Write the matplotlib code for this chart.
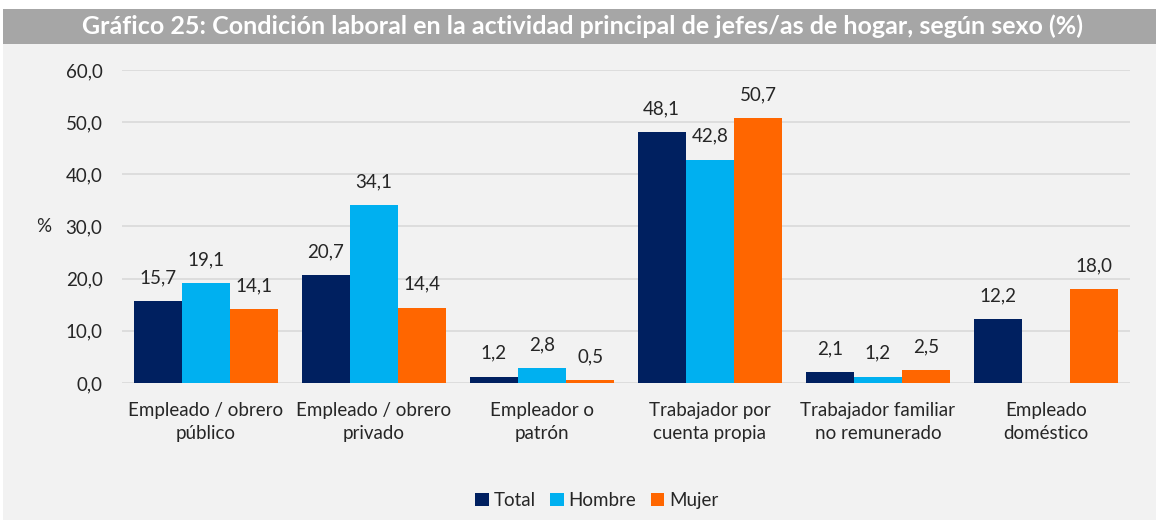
import numpy as np
import matplotlib.pyplot as plt
from matplotlib.patches import Rectangle

plt.rcParams['font.family'] = ['Lato', 'DejaVu Sans']

categorias = ['Empleado / obrero\npúblico', 'Empleado / obrero\nprivado', 'Empleador o\npatrón',
              'Trabajador por\ncuenta propia', 'Trabajador familiar\nno remunerado', 'Empleado\ndoméstico']
total = [15.7, 20.7, 1.2, 48.1, 2.1, 12.2]
hombre = [19.1, 34.1, 2.8, 42.8, 1.2, np.nan]
mujer = [14.1, 14.4, 0.5, 50.7, 2.5, 18.0]
series = [('Total', total, '#002060'), ('Hombre', hombre, '#00B0F0'), ('Mujer', mujer, '#FF6600')]

fig = plt.figure(figsize=(11.56, 5.2), dpi=100, facecolor='white')
# fondo gris claro y barra del titulo
fig.patches.append(Rectangle((0.003, 0), 0.997, 0.915, transform=fig.transFigure,
                             facecolor='#F2F2F2', edgecolor='none', zorder=-2))
fig.patches.append(Rectangle((0.003, 0.915), 0.997, 0.068, transform=fig.transFigure,
                             facecolor='#A6A6A6', edgecolor='none', zorder=-1))
fig.text(0.504, 0.949, 'Gráfico 25: Condición laboral en la actividad principal de jefes/as de hogar, según sexo (%)',
         ha='center', va='center', color='white', fontsize=18, fontweight='bold')

ax = fig.add_axes([0.1055, 0.2635, 0.872, 0.602])
ax.set_facecolor('none')
x = np.arange(len(categorias))
w = 0.287
for i, (nombre, vals, color) in enumerate(series):
    pos = x + (i - 1) * w
    ax.bar(pos, vals, width=w, color=color, label=nombre, zorder=3)
    for p, v in zip(pos, vals):
        if not np.isnan(v):
            ax.annotate(f'{v:.1f}'.replace('.', ','), (p, v), xytext=(0, 13), textcoords='offset points',
                        ha='center', va='baseline', fontsize=13.5, color='#262626')

ax.set_xlim(-0.5, len(categorias) - 0.5)
ax.set_ylim(0, 60)
ax.set_yticks(np.arange(0, 61, 10))
ax.set_yticklabels([f'{t:.1f}'.replace('.', ',') for t in np.arange(0, 61, 10)])
ax.yaxis.grid(True, color='#D9D9D9', linewidth=1.2, zorder=0)
ax.set_xticks(x)
ax.set_xticklabels(categorias, linespacing=1.4)
ax.tick_params(axis='both', length=0, labelsize=13.5, colors='#262626')
ax.tick_params(axis='y', pad=14)
ax.tick_params(axis='x', pad=14)
for s in ax.spines.values():
    s.set_visible(False)
ax.set_ylabel('%', rotation=0, fontsize=13.5, color='#262626', va='center')
ax.yaxis.set_label_coords(-0.078, 0.5)

ax.legend(loc='center', bbox_to_anchor=(0.471, -0.375), ncol=3, frameon=False, fontsize=13.5,
          handlelength=0.7, handleheight=0.7, handletextpad=0.25, columnspacing=0.8,
          labelcolor='#262626')

fig.savefig('out.png', dpi=100, facecolor='white')
